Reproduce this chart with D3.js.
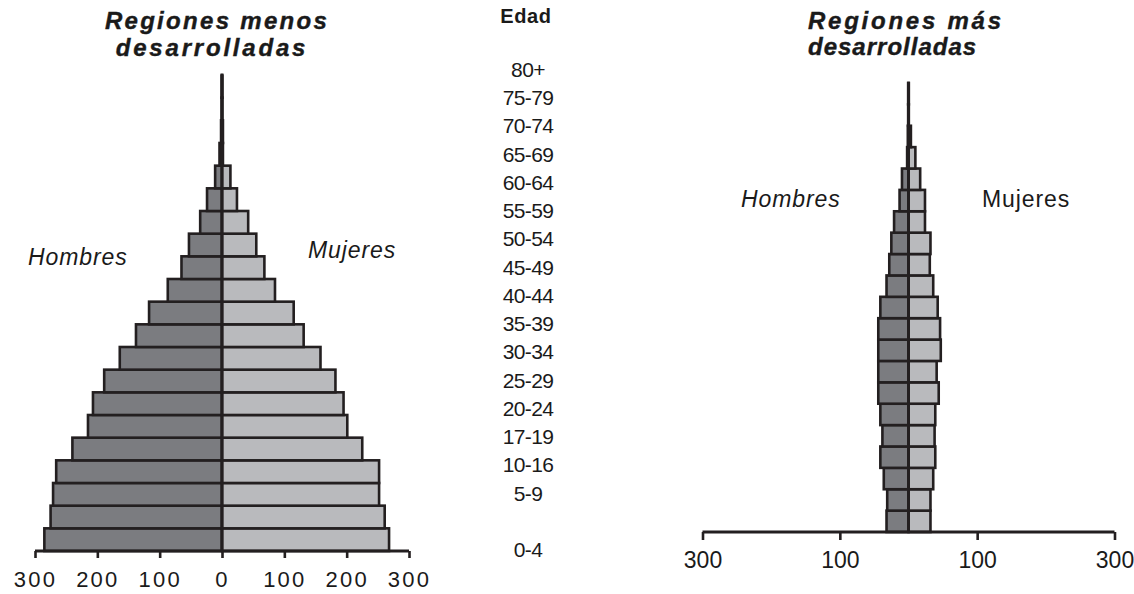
<!DOCTYPE html>
<html>
<head>
<meta charset="utf-8">
<script src="https://cdn.jsdelivr.net/npm/d3@7"></script>
<style>
  html, body { margin: 0; padding: 0; background: #fff; }
  svg { display: block; }
  text { font-family: "Liberation Sans", Arial, Helvetica, sans-serif; fill: #1a1a1a; }
</style>
</head>
<body>
<svg id="chart" width="1134" height="594"></svg>
<script>
// ---- Data ----
// 21 five-year bar groups, bottom (0-4) to top (100+)
const ageGroups = ["0-4","5-9","10-14","15-19","20-24","25-29","30-34","35-39","40-44","45-49",
  "50-54","55-59","60-64","65-69","70-74","75-79","80-84","85-89","90-94","95-99","100+"];

// Regiones menos desarrolladas (millones)
const menLess   = [285,275,271,266,240,215,207,189,164,138,117,87,65,53,35,24,11,4,1.5,0.5,0.5];
const womenLess = [268,261,252,252,225,201,195,182,158,131,115,85,68,55,42,24,13.5,1.5,1.5,0.5,0.5];

// Regiones más desarrolladas (millones)
const menMore   = [32,31,36,41,38,41,44,44,44,44,41,32,28,25,21,13,9.5,2,1,0.5,0.5];
const womenMore = [32,32,36,39,38,39,44,41,47,46,42.5,36,31,32,24,24,17,10,3.5,0.5,0.5];

// Age labels as printed in the central column (top to bottom, null = empty slot)
const ageLabels = ["80+","75-79","70-74","65-69","60-64","55-59","50-54","45-49","40-44",
  "35-39","30-34","25-29","20-24","17-19","10-16","5-9",null,"0-4"];

const ticksLess = [-300,-200,-100,0,100,200,300];
const ticksMore = [-300,-100,100,300];

const titleLess = ["Regiones menos","desarrolladas"];
const titleMore = ["Regiones más","desarrolladas"];

// ---- Styles ----
const C_MEN = "#7b7c80", C_WOMEN = "#b9babd", C_LINE = "#231f20";

const svg = d3.select("#chart");

function pyramid(opt) {
  const g = svg.append("g");
  const x = d3.scaleLinear().domain([-300, 300]).range(opt.xRange);
  const y = d3.scaleBand().domain(ageGroups).range([opt.yBottom, opt.yTop]).paddingInner(0);
  const x0 = x(0);

  g.selectAll("rect.men").data(ageGroups).join("rect")
    .attr("class", "men")
    .attr("x", (d, i) => x(-opt.men[i]))
    .attr("width", (d, i) => x0 - x(-opt.men[i]))
    .attr("y", d => y(d))
    .attr("height", y.bandwidth())
    .attr("fill", C_MEN).attr("stroke", C_LINE).attr("stroke-width", 2.6);

  g.selectAll("rect.women").data(ageGroups).join("rect")
    .attr("class", "women")
    .attr("x", x0)
    .attr("width", (d, i) => x(opt.women[i]) - x0)
    .attr("y", d => y(d))
    .attr("height", y.bandwidth())
    .attr("fill", C_WOMEN).attr("stroke", C_LINE).attr("stroke-width", 2.6);

  g.append("line")
    .attr("x1", x0).attr("x2", x0)
    .attr("y1", opt.yTop).attr("y2", opt.yBottom)
    .attr("stroke", C_LINE).attr("stroke-width", 3);

  const axis = d3.axisBottom(x).tickValues(opt.ticks)
    .tickFormat(d => Math.abs(d)).tickSize(opt.tickSize).tickSizeOuter(0).tickPadding(opt.tickPad);
  const ag = g.append("g").attr("transform", `translate(0,${opt.yBottom})`).call(axis);
  ag.select(".domain").attr("stroke", C_LINE).attr("stroke-width", 3)
    .attr("d", `M${x(-300)},0H${x(300)}`);
  ag.selectAll(".tick line").attr("stroke", C_LINE).attr("stroke-width", 2.6);
  ag.selectAll(".tick text")
    .style("font-family", '"Liberation Sans", Arial, sans-serif')
    .style("font-size", opt.tickFont + "px")
    .style("letter-spacing", opt.tickSpacing + "px")
    .attr("fill", "#1a1a1a");
  return {x, y};
}

pyramid({ xRange: [222 - 187, 222 + 187], yBottom: 551, yTop: 75,
  men: menLess, women: womenLess, ticks: ticksLess,
  tickSize: 7, tickPad: 13, tickFont: 22, tickSpacing: 2.2 });

pyramid({ xRange: [908.5 - 206, 908.5 + 206], yBottom: 532, yTop: 83,
  men: menMore, women: womenMore, ticks: ticksMore,
  tickSize: 8, tickPad: 12, tickFont: 23, tickSpacing: 0 });

// ---- Titles ----
function title(x, y, t, anchor, spacing) {
  svg.append("text").attr("x", x).attr("y", y).attr("text-anchor", anchor)
    .style("font-size", "24px").style("font-weight", "bold").style("font-style", "italic")
    .style("letter-spacing", spacing + "px")
    .attr("stroke", "#1a1a1a").attr("stroke-width", 0.4)
    .text(t);
}
title(217, 29, titleLess[0], "middle", 2.3);
title(212, 56, titleLess[1], "middle", 2.8);
title(808, 29, titleMore[0], "start", 2.75);
title(808, 55, titleMore[1], "start", 1);

// ---- Age column ----
svg.append("text").attr("x", 526).attr("y", 23).attr("text-anchor", "middle")
  .style("font-size", "20px").style("font-weight", "bold").style("letter-spacing", "0.6px").text("Edad");

const yLab = d3.scaleLinear().domain([0, ageLabels.length - 1]).range([77, 557]);
svg.selectAll("text.age").data(ageLabels.map((t, i) => ({t, i})).filter(d => d.t !== null))
  .join("text").attr("class", "age")
  .attr("x", 528).attr("y", d => yLab(d.i)).attr("text-anchor", "middle")
  .style("font-size", "21px").style("letter-spacing", "-0.6px")
  .text(d => d.t);

// ---- Sex labels ----
function label(x, y, t, italic) {
  svg.append("text").attr("x", x).attr("y", y)
    .style("font-size", "23px").style("font-style", italic ? "italic" : "normal")
    .style("letter-spacing", "0.9px").text(t);
}
label(28, 265, "Hombres", true);
label(308, 258, "Mujeres", true);
label(741, 207, "Hombres", true);
label(982, 207, "Mujeres", false);
</script>
</body>
</html>
